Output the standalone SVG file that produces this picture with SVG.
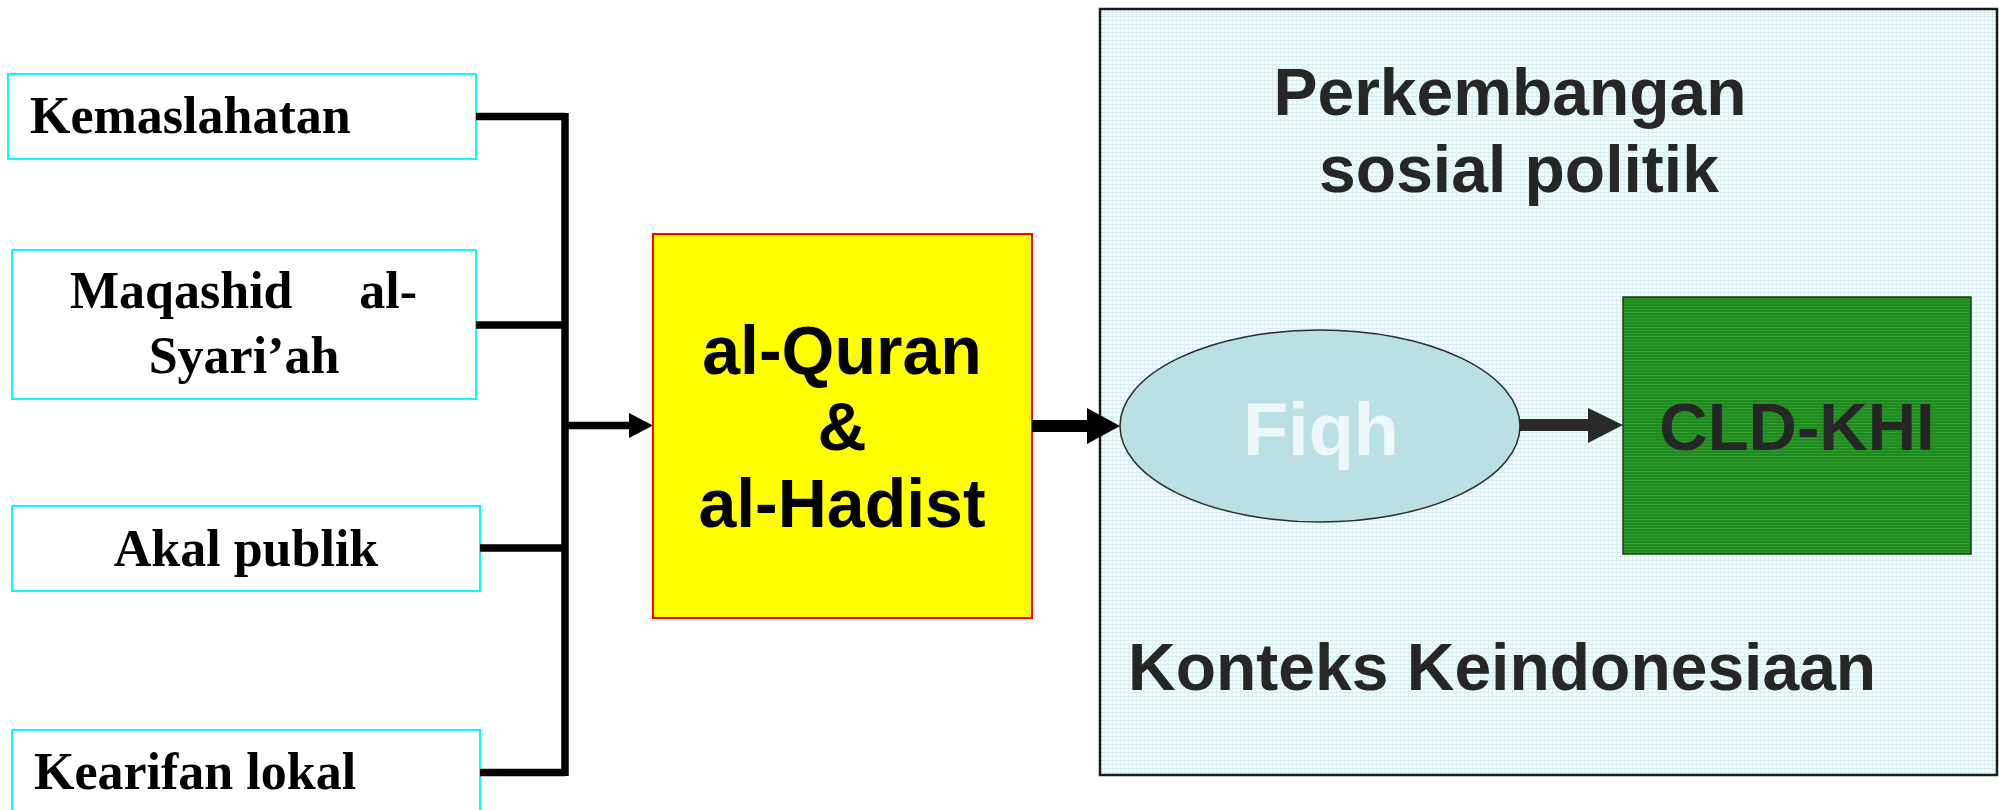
<svg xmlns="http://www.w3.org/2000/svg" width="1999" height="810" viewBox="0 0 1999 810">
  <defs>
    <pattern id="grid" x="0" y="0" width="4" height="4" patternUnits="userSpaceOnUse">
      <rect width="4" height="4" fill="#f5fbfb"/>
      <rect width="4" height="1" fill="#d6edef"/>
      <rect width="1" height="4" fill="#dcf0f1"/>
    </pattern>
    <pattern id="greengrid" x="0" y="0" width="3" height="3" patternUnits="userSpaceOnUse">
      <rect width="3" height="3" fill="#1f8a1f"/>
      <rect width="3" height="1" fill="#2e9a2e"/>
    </pattern>
  </defs>
  <style>
    .src { fill: #ffffff; stroke: #00ffff; stroke-width: 2; }
    .srct { font-family: "Liberation Serif", "Times New Roman", serif; font-weight: bold; font-size: 52px; fill: #000000; }
    .sans { font-family: "Liberation Sans", Arial, sans-serif; font-weight: bold; }
    .dark { fill: #262626; }
    .wire { fill: none; stroke: #000000; stroke-width: 7.5; stroke-linecap: butt; }
  </style>

  <g id="context">
    <rect x="1100" y="9" width="897" height="766" fill="url(#grid)" stroke="#1a1a1a" stroke-width="2.5"/>
    <text class="sans dark" x="1510" y="115" font-size="66" text-anchor="middle">Perkembangan</text>
    <text class="sans dark" x="1519" y="192" font-size="66" text-anchor="middle">sosial politik</text>
    <text class="sans dark" x="1128" y="690" font-size="66">Konteks Keindonesiaan</text>
  </g>

  <g id="kemaslahatan">
    <rect class="src" x="8" y="74" width="468" height="85"/>
    <text class="srct" x="30" y="133">Kemaslahatan</text>
  </g>

  <g id="maqashid">
    <rect class="src" x="12" y="250" width="464" height="149"/>
    <text class="srct" x="70" y="308">Maqashid</text>
    <text class="srct" x="417" y="308" text-anchor="end">al-</text>
    <text class="srct" x="244" y="373" text-anchor="middle">Syari’ah</text>
  </g>

  <g id="akal-publik">
    <rect class="src" x="12" y="506" width="468" height="85"/>
    <text class="srct" x="246" y="566" text-anchor="middle">Akal publik</text>
  </g>

  <g id="kearifan-lokal">
    <rect class="src" x="12" y="730" width="468" height="100"/>
    <text class="srct" x="34" y="789">Kearifan lokal</text>
  </g>

  <g id="quran-hadist">
    <rect x="653" y="234" width="379" height="384" fill="#ffff00" stroke="#ff0000" stroke-width="2"/>
    <text class="sans" x="842" y="374" font-size="68" text-anchor="middle" fill="#000">al-Quran</text>
    <text class="sans" x="842" y="450" font-size="68" text-anchor="middle" fill="#000">&amp;</text>
    <text class="sans" x="842" y="527" font-size="68" text-anchor="middle" fill="#000">al-Hadist</text>
  </g>

  <g id="fiqh">
    <ellipse cx="1320" cy="426" rx="200" ry="96" fill="#b9e0e2" stroke="#2a2a2a" stroke-width="1.5"/>
    <text class="sans" x="1321" y="455" font-size="74" text-anchor="middle" fill="#eef8f8">Fiqh</text>
  </g>

  <g id="cld-khi">
    <rect x="1623" y="297" width="348" height="257" fill="url(#greengrid)" stroke="#1a3a1a" stroke-width="1.5"/>
    <text class="sans dark" x="1797" y="450" font-size="67" text-anchor="middle">CLD-KHI</text>
  </g>

  <g id="connectors">
    <path class="wire" d="M476 116.5 H565 M476 325 H565 M480 548 H565 M480 772.5 H565 M565 113 V776"/>
    <path class="wire" d="M565 425.5 H631"/>
    <polygon points="629,413 653,425.5 629,438" fill="#000"/>
    <path d="M1032 426 H1089" stroke="#000" stroke-width="12" fill="none"/>
    <polygon points="1087,408 1120,426 1087,444" fill="#000"/>
    <path d="M1520 425 H1590" stroke="#2a2a2a" stroke-width="12" fill="none"/>
    <polygon points="1588,408 1623,425 1588,443" fill="#2a2a2a"/>
  </g>
</svg>
